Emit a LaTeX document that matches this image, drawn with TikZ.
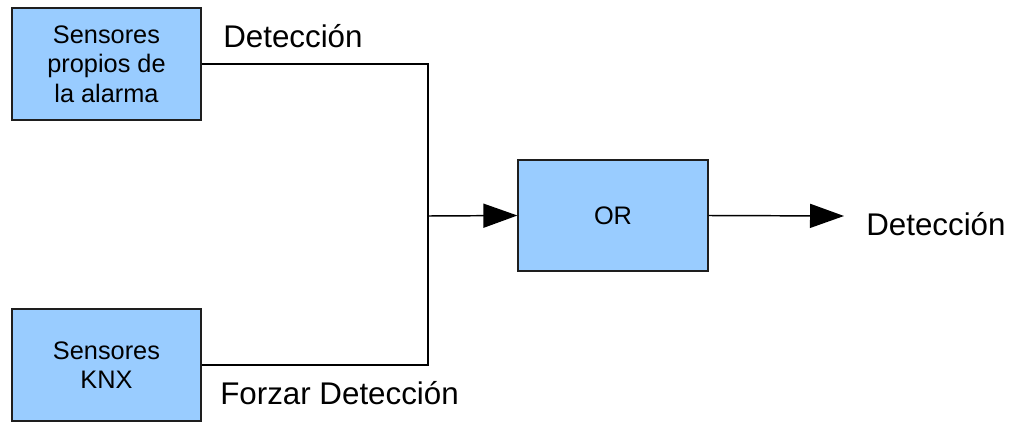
\documentclass[tikz,border=0pt]{standalone}
\usepackage{fontspec}
\setmainfont{Liberation Sans}
\usetikzlibrary{arrows.meta}

\begin{document}
\begin{tikzpicture}[x=0.75pt,y=0.75pt,yscale=-1,xscale=1,
  bloque/.style={draw={rgb, 255:red, 30; green, 30; blue, 30 },line width=0.9pt,fill={rgb, 255:red, 153; green, 204; blue, 255 },inner sep=0pt,align=center,font=\fontsize{19}{22}\selectfont},
  linea/.style={line width=1.1pt},
  flecha/.style={line width=1.1pt,-{Triangle[length=25.5pt,width=18pt]}},
  etiqueta/.style={inner sep=0pt,font=\fontsize{23.5}{27}\selectfont}]
%set diagram left start at 0, and has height of 421
\useasboundingbox (0,0) rectangle (1016,421);

%Shape: Rectangle [id:alarma]
\node [bloque,minimum width=141.75pt,minimum height=84pt] (alarma) at (106.5,64) {Sensores\\propios de\\la alarma};
%Shape: Rectangle [id:knx]
\node [bloque,minimum width=141.75pt,minimum height=84pt] (knx) at (106.5,365) {Sensores\\KNX};
%Shape: Rectangle [id:or]
\node [bloque,minimum width=142.5pt,minimum height=83.25pt] (or) at (613,215.5) {OR};

\coordinate (union) at (428,216);
\coordinate (salida) at (844,216);

%Connectors
\draw [linea] (alarma.east) -| (union) |- (knx.east);
\draw [flecha] (union) -- (or.west);
\draw [flecha] (or.east) -- (salida);

% Text Node
\node [etiqueta,anchor=base west] (detA) at (223,47) {Detección};
% Text Node
\node [etiqueta,anchor=base west] (forzar) at (220,404) {Forzar Detección};
% Text Node
\node [etiqueta,anchor=base west] (detS) at (866,235) {Detección};

\end{tikzpicture}
\end{document}
